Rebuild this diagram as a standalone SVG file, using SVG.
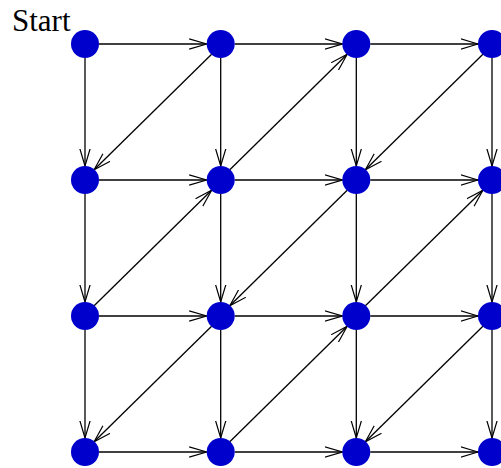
<svg xmlns="http://www.w3.org/2000/svg" width="501" height="468" viewBox="0 0 501 468">
<defs>
<style>
.e{stroke:#000;stroke-width:1.3;fill:none;marker-end:url(#a)}
.n{fill:#0000cc}
.t{font-family:"Liberation Serif",serif;font-size:31px;fill:#000}
</style>
<marker id="a" viewBox="0 0 18 12" refX="17.5" refY="6" markerWidth="18" markerHeight="12" markerUnits="userSpaceOnUse" orient="auto">
<path d="M0,0.8 L17.5,6 L0,11.2" fill="none" stroke="#000" stroke-width="1.2"/>
</marker>
</defs>
<rect width="501" height="468" fill="#fff"/>
<text class="t" x="12" y="31">Start</text>
<g id="connectors">
<!-- horizontal -->
<line class="e" x1="99" y1="44" x2="206.7" y2="44"/>
<line class="e" x1="234.7" y1="44" x2="342.3" y2="44"/>
<line class="e" x1="370.3" y1="44" x2="478" y2="44"/>
<line class="e" x1="99" y1="180" x2="206.7" y2="180"/>
<line class="e" x1="234.7" y1="180" x2="342.3" y2="180"/>
<line class="e" x1="370.3" y1="180" x2="478" y2="180"/>
<line class="e" x1="99" y1="316" x2="206.7" y2="316"/>
<line class="e" x1="234.7" y1="316" x2="342.3" y2="316"/>
<line class="e" x1="370.3" y1="316" x2="478" y2="316"/>
<line class="e" x1="99" y1="452" x2="206.7" y2="452"/>
<line class="e" x1="234.7" y1="452" x2="342.3" y2="452"/>
<line class="e" x1="370.3" y1="452" x2="478" y2="452"/>
<!-- vertical -->
<line class="e" x1="85" y1="58" x2="85" y2="166"/>
<line class="e" x1="85" y1="194" x2="85" y2="302"/>
<line class="e" x1="85" y1="330" x2="85" y2="438"/>
<line class="e" x1="220.7" y1="58" x2="220.7" y2="166"/>
<line class="e" x1="220.7" y1="194" x2="220.7" y2="302"/>
<line class="e" x1="220.7" y1="330" x2="220.7" y2="438"/>
<line class="e" x1="356.3" y1="58" x2="356.3" y2="166"/>
<line class="e" x1="356.3" y1="194" x2="356.3" y2="302"/>
<line class="e" x1="356.3" y1="330" x2="356.3" y2="438"/>
<line class="e" x1="492" y1="58" x2="492" y2="166"/>
<line class="e" x1="492" y1="194" x2="492" y2="302"/>
<line class="e" x1="492" y1="330" x2="492" y2="438"/>
<!-- diagonals -->
<line class="e" x1="211.6" y1="54.2" x2="94.1" y2="169.8"/>
<line class="e" x1="229.8" y1="169.8" x2="347.2" y2="54.2"/>
<line class="e" x1="482.9" y1="54.2" x2="365.4" y2="169.8"/>
<line class="e" x1="94.1" y1="305.8" x2="211.6" y2="190.2"/>
<line class="e" x1="347.2" y1="190.2" x2="229.8" y2="305.8"/>
<line class="e" x1="365.4" y1="305.8" x2="482.9" y2="190.2"/>
<line class="e" x1="211.6" y1="326.2" x2="94.1" y2="441.8"/>
<line class="e" x1="229.8" y1="441.8" x2="347.2" y2="326.2"/>
<line class="e" x1="482.9" y1="326.2" x2="365.4" y2="441.8"/>
</g>
<g id="n00"><circle class="n" cx="85" cy="44" r="14"/></g>
<g id="n10"><circle class="n" cx="220.7" cy="44" r="14"/></g>
<g id="n20"><circle class="n" cx="356.3" cy="44" r="14"/></g>
<g id="n30"><circle class="n" cx="492" cy="44" r="14"/></g>
<g id="n01"><circle class="n" cx="85" cy="180" r="14"/></g>
<g id="n11"><circle class="n" cx="220.7" cy="180" r="14"/></g>
<g id="n21"><circle class="n" cx="356.3" cy="180" r="14"/></g>
<g id="n31"><circle class="n" cx="492" cy="180" r="14"/></g>
<g id="n02"><circle class="n" cx="85" cy="316" r="14"/></g>
<g id="n12"><circle class="n" cx="220.7" cy="316" r="14"/></g>
<g id="n22"><circle class="n" cx="356.3" cy="316" r="14"/></g>
<g id="n32"><circle class="n" cx="492" cy="316" r="14"/></g>
<g id="n03"><circle class="n" cx="85" cy="452" r="14"/></g>
<g id="n13"><circle class="n" cx="220.7" cy="452" r="14"/></g>
<g id="n23"><circle class="n" cx="356.3" cy="452" r="14"/></g>
<g id="n33"><circle class="n" cx="492" cy="452" r="14"/></g>
</svg>
